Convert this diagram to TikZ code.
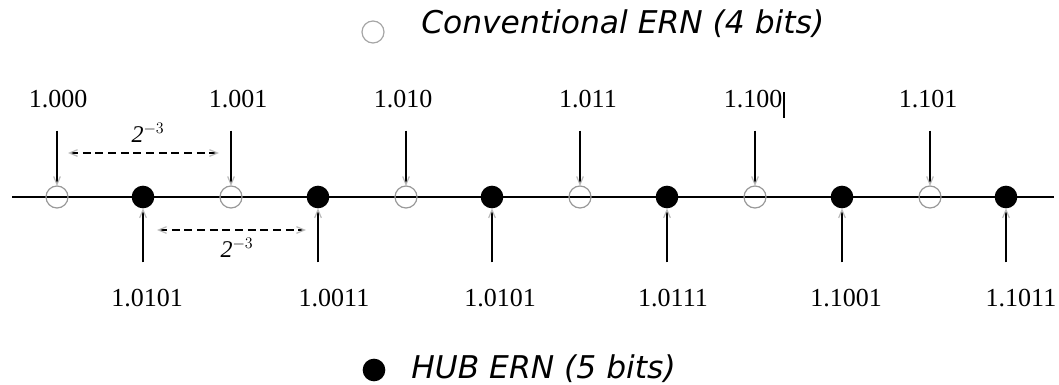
\documentclass[tikz,border=0pt]{standalone}
\usepackage{fontspec}
\setmainfont{Liberation Serif}
\newfontfamily\legfont{DejaVu Sans}
\usetikzlibrary{arrows.meta}
\begin{document}
\begin{tikzpicture}[x=0.75pt,y=-0.75pt,
  opendot/.style={circle,draw=gray!80,line width=0.9pt,minimum size=16.5pt,inner sep=0pt,outer sep=0pt},
  fulldot/.style={circle,fill=black,minimum size=17pt,inner sep=0pt,outer sep=0pt},
  num/.style={font=\fontsize{19.5}{22}\selectfont,inner sep=0pt,anchor=base},
  pin/.style={line width=1.6pt,-{Straight Barb[length=6pt,width=5pt,color=gray!55,line width=0.9pt]}},
  spanarrow/.style={line width=1.3pt,dash pattern=on 6pt off 3.5pt,
    {Straight Barb[length=6pt,width=5pt,color=gray!55,line width=0.9pt]}-{Straight Barb[length=6pt,width=5pt,color=gray!55,line width=0.9pt]}},
  spanlab/.style={font=\fontsize{18}{20}\selectfont,inner sep=0pt},
  leg/.style={font=\legfont\itshape\fontsize{23.5}{26}\selectfont,anchor=base west,inner sep=0pt}]
\useasboundingbox (0,0) rectangle (1059,385);

% axis
\coordinate (L) at (12,197);
\coordinate (R) at (1054,197);
\draw[line width=1.8pt] (L) -- (R);

% points
\node[opendot] (o1) at (57,197) {};
\node[opendot] (o2) at (231,197) {};
\node[opendot] (o3) at (406,197) {};
\node[opendot] (o4) at (580,197) {};
\node[opendot] (o5) at (755,197) {};
\node[opendot] (o6) at (930,197) {};
\node[fulldot] (f1) at (143,197) {};
\node[fulldot] (f2) at (318,197) {};
\node[fulldot] (f3) at (492,197) {};
\node[fulldot] (f4) at (667,197) {};
\node[fulldot] (f5) at (842,197) {};
\node[fulldot] (f6) at (1006,197) {};

% top labels
\node[num] (t1) at (58,108) {1.000};
\node[num] (t2) at (238,108) {1.001};
\node[num] (t3) at (403,108) {1.010};
\node[num] (t4) at (588,108) {1.011};
\node[num] (t5) at (753,108) {1.100};
\node[num] (t6) at (928,108) {1.101};
\draw[line width=1.1pt] (784,92) -- (784,118);

% bottom labels
\node[num] (b1) at (147,306) {1.0101};
\node[num] (b2) at (334,306) {1.0011};
\node[num] (b3) at (500,306) {1.0101};
\node[num] (b4) at (673,306) {1.0111};
\node[num] (b5) at (846,306) {1.1001};
\node[num] (b6) at (1021,306) {1.1011};

% pins
\foreach \i in {1,...,6}{
  \draw[pin,shorten <=16.5pt] (o\i |- t\i.south) -- (o\i.north);
  \draw[pin,shorten <=19.5pt] (f\i |- b\i.north) -- (f\i.south);
}

% spacing arrows
\coordinate (s1a) at (68,153);
\coordinate (s1b) at (219,153);
\coordinate (s2a) at (157,230);
\coordinate (s2b) at (306,230);
\draw[spanarrow] (s1a) -- (s1b);
\draw[spanarrow] (s2a) -- (s2b);
\node[spanlab] (d1) at (148,133) {$\mathit{2}^{-3}$};
\node[spanlab] (d2) at (237,248) {$\mathit{2}^{-3}$};

% legend
\node[opendot,draw=gray!70] (lo) at (373,32) {};
\node[leg] (lt) at (421,34) {Conventional ERN (4 bits)};
\node[fulldot] (lf) at (374,370) {};
\node[leg] (lh) at (411,378) {HUB ERN (5 bits)};
\end{tikzpicture}
\end{document}
